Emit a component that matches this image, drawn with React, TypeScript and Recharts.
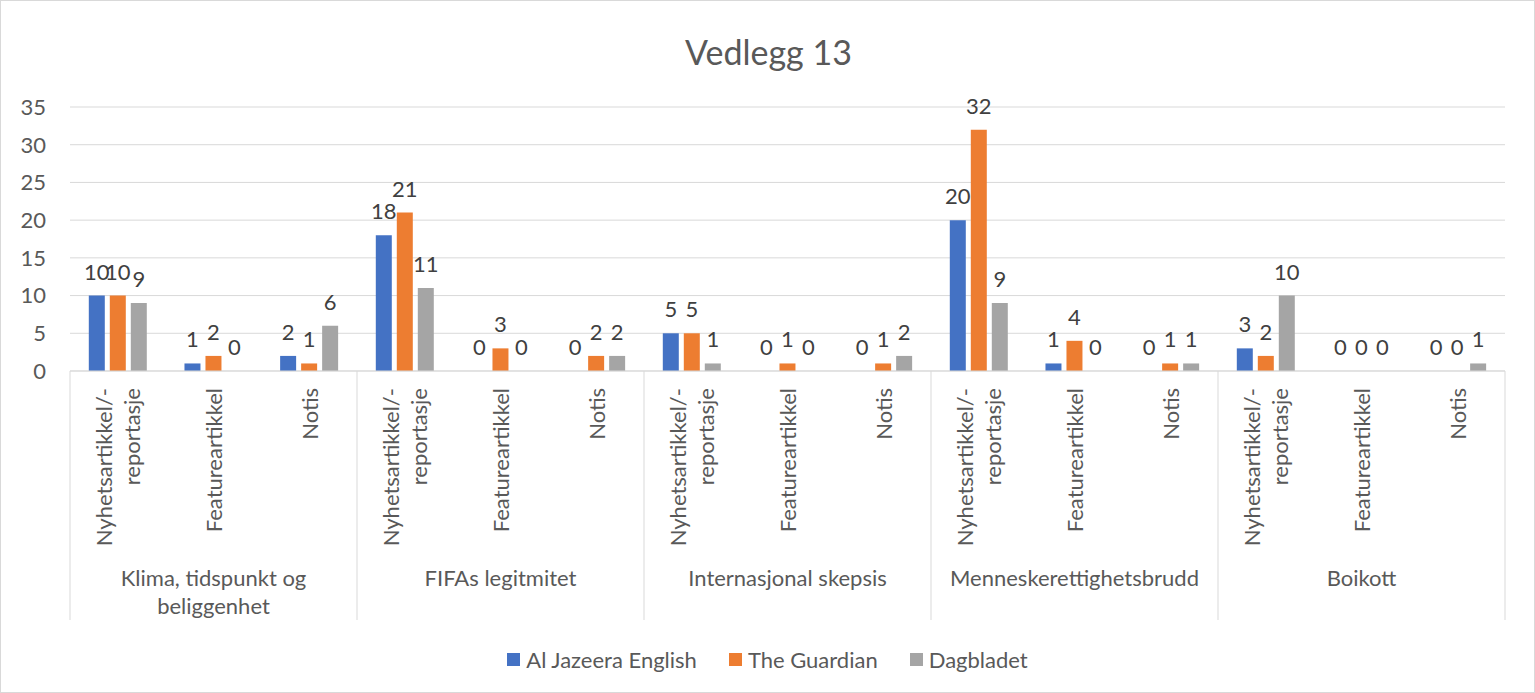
import React from 'react';
import { BarChart, Bar, XAxis, YAxis, CartesianGrid, Legend, LabelList } from 'recharts';

const W = 1535;
const H = 693;
const PLOT_LEFT = 70;
const PLOT_RIGHT = 1505;
const FONT = 'Lato, "Open Sans", sans-serif';
const TEXT = '#595959';

// category axis: two levels
const groups = [
  'Klima, tidspunkt og\nbeliggenhet',
  'FIFAs legitmitet',
  'Internasjonal skepsis',
  'Menneskerettighetsbrudd',
  'Boikott',
];
const subTypes = ['Nyhetsartikkel/-\nreportasje', 'Featureartikkel', 'Notis'];

const alJazeera = [10, 1, 2, 18, 0, 0, 5, 0, 0, 20, 1, 0, 3, 0, 0];
const guardian = [10, 2, 1, 21, 3, 2, 5, 1, 1, 32, 4, 1, 2, 0, 0];
const dagbladet = [9, 0, 6, 11, 0, 2, 1, 0, 2, 9, 0, 1, 10, 0, 1];

const yTicks = [0, 5, 10, 15, 20, 25, 30, 35];

const series = [
  { key: 'alJazeera', name: 'Al Jazeera English', color: '#4472C4' },
  { key: 'guardian', name: 'The Guardian', color: '#ED7D31' },
  { key: 'dagbladet', name: 'Dagbladet', color: '#A5A5A5' },
];

const data = alJazeera.map((v, i) => ({
  id: i,
  sub: subTypes[i % 3],
  group: groups[Math.floor(i / 3)],
  alJazeera: v,
  guardian: guardian[i],
  dagbladet: dagbladet[i],
}));

const band = (PLOT_RIGHT - PLOT_LEFT) / data.length;

function CategoryTick(props: any) {
  const { x, y, payload } = props;
  const i = payload.index ?? props.index;
  const row = data[i];
  if (!row) return null;
  const subLines = row.sub.split('\n');
  const top = y + 17;
  const groupLines = row.group.split('\n');
  return (
    <g>
      {i % 3 === 0 && (
        <line x1={x - band / 2} x2={x - band / 2} y1={y} y2={620} stroke="#d9d9d9" />
      )}
      {i === data.length - 1 && (
        <line x1={x + band / 2} x2={x + band / 2} y1={y} y2={620} stroke="#d9d9d9" />
      )}
      {subLines.map((line: string, k: number) => (
        <text
          key={k}
          x={x}
          y={top + (k - (subLines.length - 1) / 2) * 28}
          transform={`rotate(-90, ${x}, ${top})`}
          textAnchor="end"
          dominantBaseline="central"
          fill={TEXT}
          fontSize={22}
          fontFamily={FONT}
        >
          {line}
        </text>
      ))}
      {i % 3 === 1 &&
        groupLines.map((line: string, k: number) => (
          <text
            key={'g' + k}
            x={x}
            y={577 + k * 28}
            textAnchor="middle"
            dominantBaseline="central"
            fill={TEXT}
            fontSize={22}
            fontFamily={FONT}
          >
            {line}
          </text>
        ))}
    </g>
  );
}

function LegendContent() {
  return (
    <div style={{ display: 'flex', justifyContent: 'center', fontFamily: FONT, fontSize: 22, color: TEXT }}>
      {series.map((s) => (
        <div key={s.key} style={{ display: 'flex', alignItems: 'center', margin: '0 16px' }}>
          <span style={{ width: 13, height: 13, background: s.color, marginRight: 6, display: 'inline-block' }} />
          <span>{s.name}</span>
        </div>
      ))}
    </div>
  );
}

export default function App() {
  return (
    <div
      style={{
        position: 'fixed',
        left: 0,
        top: 0,
        width: W,
        height: H,
        background: '#fff',
        border: '1px solid #d9d9d9',
        boxSizing: 'border-box',
      }}
    >
      <div
        style={{
          position: 'absolute',
          left: 0,
          top: 32,
          width: W,
          textAlign: 'center',
          fontFamily: FONT,
          fontSize: 34,
          lineHeight: '38px',
          color: TEXT,
        }}
      >
        Vedlegg 13
      </div>
      <div style={{ position: 'absolute', left: -1, top: -1 }}>
        <BarChart
          width={W}
          height={H}
          data={data}
          margin={{ top: 107, right: W - PLOT_RIGHT, left: PLOT_LEFT - 40, bottom: 73 }}
          barCategoryGap={18.8}
          barGap={5}
        >
          <CartesianGrid vertical={false} stroke="#d9d9d9" />
          <XAxis
            dataKey="sub"
            interval={0}
            height={249}
            tickLine={false}
            tickSize={0}
            tickMargin={0}
            axisLine={{ stroke: '#d9d9d9' }}
            tick={<CategoryTick />}
          />
          <YAxis
            width={40}
            domain={[0, 35]}
            ticks={yTicks}
            axisLine={false}
            tickLine={false}
            tickSize={0}
            tickMargin={24}
            tick={{ fill: TEXT, fontSize: 22, fontFamily: FONT }}
          />
          <Legend
            layout="horizontal"
            verticalAlign="middle"
            content={<LegendContent />}
            wrapperStyle={{ top: 646, left: 0, width: W }}
          />
          {series.map((s) => (
            <Bar
              key={s.key}
              dataKey={s.key}
              name={s.name}
              fill={s.color}
              minPointSize={0.01}
              isAnimationActive={false}
            >
              <LabelList dataKey={s.key} position="top" offset={16} fill="#404040" fontSize={22} fontFamily={FONT} />
            </Bar>
          ))}
        </BarChart>
      </div>
    </div>
  );
}
